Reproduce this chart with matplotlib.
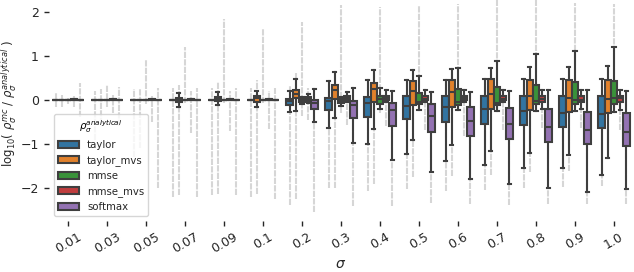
import numpy as np
import matplotlib
matplotlib.use('Agg')
import matplotlib.pyplot as plt
from matplotlib.patches import Patch

sigmas = ['0.01', '0.03', '0.05', '0.07', '0.09', '0.1', '0.2', '0.3', '0.4',
          '0.5', '0.6', '0.7', '0.8', '0.9', '1.0']
methods = ['taylor', 'taylor_mvs', 'mmse', 'mmse_mvs', 'softmax']
colors = ['#3274a1', '#e1812c', '#3a923a', '#c03d3e', '#9372b2']

# taylor
taylor_med = [0, 0, 0, 0, 0, 0, -0.015, -0.02, -0.075, -0.14, -0.17, -0.21, -0.26, -0.29, -0.32]
taylor_q1 = [0, 0, 0, 0, 0, 0, -0.12, -0.23, -0.38, -0.44, -0.51, -0.55, -0.58, -0.62, -0.64]
taylor_q3 = [0, 0, 0, 0, 0, 0, 0.02, 0.04, 0.06, 0.08, 0.10, 0.10, 0.10, 0.10, 0.10]
taylor_lo = [0, 0, 0, 0, 0, 0, -0.28, -0.64, -1.0, -1.23, -1.39, -1.47, -1.55, -1.54, -1.7]
taylor_hi = [0, 0, 0, 0, 0, 0, 0.21, 0.42, 0.45, 0.45, 0.46, 0.47, 0.48, 0.48, 0.48]
taylor_fl_lo = [-0.16, -0.9, -1.3, -2.2, -2.17, -2.2, -2.39, -2.0, -2.07, -2.03, -2.07, -2.05, -1.99, -1.97, -1.95]
taylor_fl_hi = [0.15, 0.2, 0.25, 0.27, 0.27, 0.27, 0.34, 0.42, 0.45, 0.45, 0.46, 0.47, 0.48, 0.48, 0.48]

# taylor_mvs
tmvs_med = [0, 0, 0, 0, 0.03, 0.04, 0.13, 0.23, 0.24, 0.21, 0.17, 0.13, 0.10, 0.05, 0.03]
tmvs_q1 = [0, 0, 0, -0.04, -0.015, -0.04, 0.04, 0.02, -0.05, -0.11, -0.15, -0.2, -0.23, -0.27, -0.3]
tmvs_q3 = [0, 0, 0, 0.05, 0.06, 0.09, 0.23, 0.33, 0.38, 0.42, 0.45, 0.47, 0.45, 0.45, 0.45]
tmvs_lo = [0, 0, 0, -0.15, -0.11, -0.15, -0.25, -0.40, -0.67, -0.91, -1.03, -1.15, -1.2, -1.24, -1.31]
tmvs_hi = [0, 0, 0, 0.15, 0.17, 0.21, 0.48, 0.64, 0.68, 0.69, 0.71, 0.73, 0.74, 0.75, 0.77]
tmvs_fl_lo = [-0.15, -0.55, -1.1, -2.15, -2.14, -2.14, -2.25, -2.0, -1.9, -1.74, -1.73, -1.7, -1.64, -1.61, -1.31]
tmvs_fl_hi = [0.12, 0.25, 0.28, 0.34, 0.4, 0.45, 0.61, 0.64, 0.68, 0.69, 0.71, 0.73, 0.74, 0.75, 0.77]

# mmse
mmse_med = [0, 0, 0, 0, 0, 0, -0.02, -0.02, 0.02, -0.05, -0.05, -0.07, -0.02, 0.0, 0.05]
mmse_q1 = [0, 0, 0, 0, 0, 0, -0.05, -0.075, -0.09, -0.09, -0.11, -0.11, -0.1, -0.1, -0.1]
mmse_q3 = [0, 0, 0, 0, 0, 0, 0.015, 0.02, 0.09, 0.15, 0.24, 0.3, 0.35, 0.4, 0.44]
mmse_lo = [0, 0, 0, 0, 0, 0, -0.1, -0.14, -0.21, -0.23, -0.24, -0.25, -0.25, -0.25, -0.27]
mmse_hi = [0, 0, 0, 0, 0, 0, 0.07, 0.07, 0.28, 0.55, 0.73, 0.88, 1.04, 1.12, 1.21]
mmse_fl_lo = [-0.1, -0.15, -0.1, -0.07, -0.07, -0.07, -0.37, -0.3, -0.3, -0.23, -0.24, -0.25, -0.25, -0.25, -0.27]
mmse_fl_hi = [0.05, 0.34, 0.9, 1.21, 1.83, 1.61, 1.78, 2.16, 2.12, 2.14, 2.18, 2.3, 2.3, 2.2, 2.18]

# mmse_mvs
mmvs_med = [0, 0, 0, 0, 0, 0, 0.03, 0.04, 0.05, 0.03, 0.04, 0.02, 0.015, 0.0, 0.04]
mmvs_q1 = [0, 0, 0, 0, 0, 0, -0.015, 0.0, 0.0, 0.0, 0.0, 0.0, -0.04, -0.05, -0.05]
mmvs_q3 = [0.01, 0.01, 0.01, 0.01, 0.01, 0.01, 0.06, 0.08, 0.1, 0.1, 0.1, 0.1, 0.1, 0.1, 0.1]
mmvs_lo = [-0.01, -0.01, -0.01, -0.01, -0.01, -0.01, -0.06, -0.05, -0.05, -0.04, -0.04, -0.04, -0.2, -0.21, -0.23]
mmvs_hi = [0.02, 0.02, 0.02, 0.02, 0.02, 0.02, 0.14, 0.17, 0.22, 0.22, 0.22, 0.22, 0.22, 0.22, 0.22]
mmvs_fl_lo = [-0.17, -0.3, -0.5, -0.75, -0.7, -0.65, -0.45, -0.57, -0.6, -0.68, -0.83, -0.68, -0.64, -0.64, -0.68]
mmvs_fl_hi = [0.1, 0.12, 0.1, 0.2, 0.2, 0.2, 0.27, 0.17, 0.22, 0.22, 0.22, 0.22, 0.22, 0.22, 0.22]

# softmax
soft_med = [0, 0, 0, 0, 0, 0, -0.08, -0.11, -0.23, -0.36, -0.47, -0.55, -0.61, -0.68, -0.73]
soft_q1 = [0, 0, 0, 0, 0, 0, -0.2, -0.42, -0.6, -0.73, -0.83, -0.89, -0.96, -1.0, -1.05]
soft_q3 = [0, 0, 0, 0, 0, 0, -0.01, -0.03, -0.08, -0.1, -0.15, -0.19, -0.21, -0.27, -0.3]
soft_lo = [0, 0, 0, 0, 0, 0, -0.5, -0.98, -1.36, -1.63, -1.8, -1.91, -1.99, -2.1, -2.03]
soft_hi = [0, 0, 0, 0, 0, 0, 0.24, 0.28, 0.2, 0.17, 0.19, 0.2, 0.22, 0.22, 0.2]
soft_fl_lo = [-0.38, -0.6, -2.0, -2.2, -2.17, -2.25, -2.54, -2.42, -2.42, -2.35, -2.36, -2.39, -2.36, -2.36, -2.36]
soft_fl_hi = [0.38, 0.3, 0.27, 0.27, 0.27, 0.27, 0.24, 0.28, 0.2, 0.17, 0.19, 0.2, 0.22, 0.22, 0.2]

series = [
    (taylor_med, taylor_q1, taylor_q3, taylor_lo, taylor_hi, taylor_fl_lo, taylor_fl_hi),
    (tmvs_med, tmvs_q1, tmvs_q3, tmvs_lo, tmvs_hi, tmvs_fl_lo, tmvs_fl_hi),
    (mmse_med, mmse_q1, mmse_q3, mmse_lo, mmse_hi, mmse_fl_lo, mmse_fl_hi),
    (mmvs_med, mmvs_q1, mmvs_q3, mmvs_lo, mmvs_hi, mmvs_fl_lo, mmvs_fl_hi),
    (soft_med, soft_q1, soft_q3, soft_lo, soft_hi, soft_fl_lo, soft_fl_hi),
]

edge = '#3f3f3f'
text_c = '#262626'
flier_c = '#d6d6d6'

fig = plt.figure(figsize=(6.34, 2.72), dpi=100)
ax = fig.add_axes([48.5 / 634, 1 - 221 / 272, 585 / 634, 221 / 272])

n = len(sigmas)
k = len(methods)
bw = 0.8 / k
x = np.arange(n)

for j, (med, q1, q3, lo, hi, fl_lo, fl_hi) in enumerate(series):
    pos = x - 0.4 + bw * (j + 0.5)
    ax.vlines(pos, fl_lo, fl_hi, color=flier_c, lw=1.5,
              linestyles=(0, (3, 0.6)), zorder=1)
    stats = [dict(med=med[i], q1=q1[i], q3=q3[i], whislo=lo[i], whishi=hi[i],
                  fliers=[]) for i in range(n)]
    ax.bxp(stats, positions=pos, widths=bw * 0.98, patch_artist=True,
           showfliers=False, manage_ticks=False,
           boxprops=dict(facecolor=colors[j], edgecolor=edge, linewidth=1.5),
           medianprops=dict(color=edge, linewidth=1.5),
           whiskerprops=dict(color=edge, linewidth=1.5),
           capprops=dict(color=edge, linewidth=1.5), zorder=2)

ax.set_xlim(-0.5, n - 0.5)
ax.set_ylim(-2.75, 2.27)
ax.set_yticks([-2, -1, 0, 1, 2])
ax.set_xticks(x)
ax.set_xticklabels(sigmas, rotation=30, ha='center')
for s in ax.spines.values():
    s.set_visible(False)
ax.tick_params(colors=text_c, labelsize=9, length=3.5, width=1)
ax.set_xlabel(r'$\sigma$', fontsize=10, color=text_c, labelpad=1)
ax.set_ylabel(r'log$_{10}$( $\rho_\sigma^{mc}$ / $\rho_\sigma^{analytical}$ )',
              fontsize=8.5, color=text_c)
ax.yaxis.set_label_coords(-0.05, 0.53)

handles = [Patch(facecolor=c, edgecolor=edge, linewidth=1.5) for c in colors]
leg = ax.legend(handles, methods, loc='lower left', title=r'$\rho_\sigma^{analytical}$',
                fontsize=7.3, title_fontsize=7.3, frameon=True, handlelength=2.1)
for t in leg.get_texts():
    t.set_color(text_c)

fig.savefig('out.png', dpi=100)
